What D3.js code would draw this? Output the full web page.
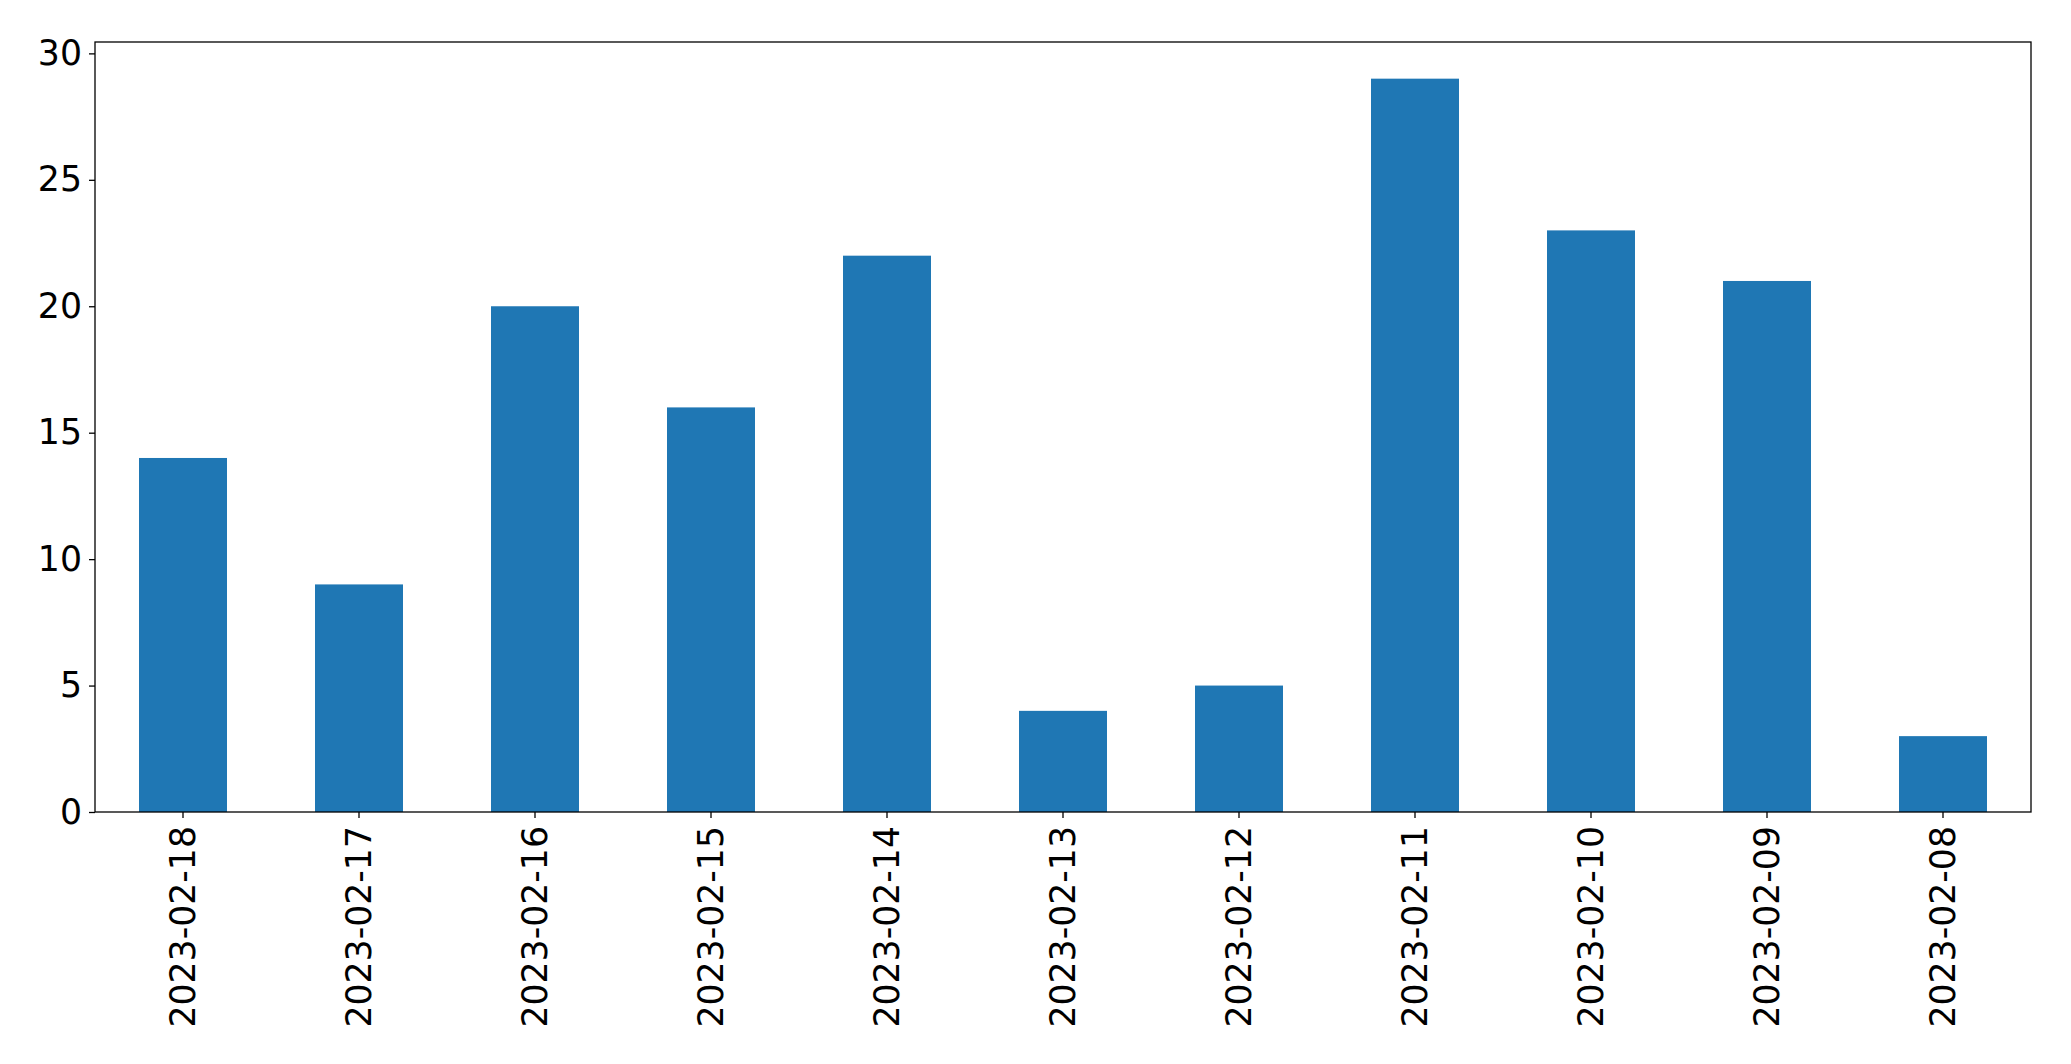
<!DOCTYPE html>
<html><head><meta charset="utf-8">
<script src="https://cdn.jsdelivr.net/npm/d3@7"></script>
<style>body{margin:0;background:#fff}svg{display:block}text{font-family:"DejaVu Sans",sans-serif}</style>
</head><body><svg id="c" width="2071" height="1064"></svg>
<script>
const categories = ["2023-02-18","2023-02-17","2023-02-16","2023-02-15","2023-02-14","2023-02-13","2023-02-12","2023-02-11","2023-02-10","2023-02-09","2023-02-08"];
const values = [14, 9, 20, 16, 22, 4, 5, 29, 23, 21, 3];
const yTicks = [0, 5, 10, 15, 20, 25, 30];

const L = 95, R = 2031, T = 42, B = 812;
const svg = d3.select("#c");
const x = d3.scaleBand().domain(categories).range([L, R]).paddingInner(0.5).paddingOuter(0.25);
const y = d3.scaleLinear().domain([0, 30.45]).range([B, T]);

svg.append("g").selectAll("rect").data(values).join("rect")
  .attr("x", (d,i) => x(categories[i]))
  .attr("width", x.bandwidth())
  .attr("y", d => y(d))
  .attr("height", d => y(0) - y(d))
  .attr("fill", "#1f77b4");

const fs = "34.7px";
const ya = svg.append("g").attr("transform", `translate(${L},0)`)
  .call(d3.axisLeft(y).tickValues(yTicks).tickSize(6).tickPadding(7).tickFormat(d3.format("d")));
ya.select(".domain").remove();
ya.selectAll("text").attr("font-size", fs).attr("font-family", "DejaVu Sans").attr("fill", "#000");
ya.selectAll("line").attr("stroke", "#000").attr("stroke-width", 1.3);

const xa = svg.append("g").attr("transform", `translate(0,${B})`)
  .call(d3.axisBottom(x).tickSize(6).tickPadding(0));
xa.select(".domain").remove();
xa.selectAll("line").attr("stroke", "#000").attr("stroke-width", 1.3);
xa.selectAll("text").attr("font-size", fs).attr("font-family", "DejaVu Sans").attr("fill", "#000")
  .attr("transform", "rotate(-90)")
  .attr("text-anchor", "end")
  .attr("x", -14).attr("y", 0).attr("dy", "0.35em");

svg.append("rect").attr("x", L).attr("y", T).attr("width", R - L).attr("height", B - T)
  .attr("fill", "none").attr("stroke", "#000").attr("stroke-width", 1.3);
</script></body></html>
